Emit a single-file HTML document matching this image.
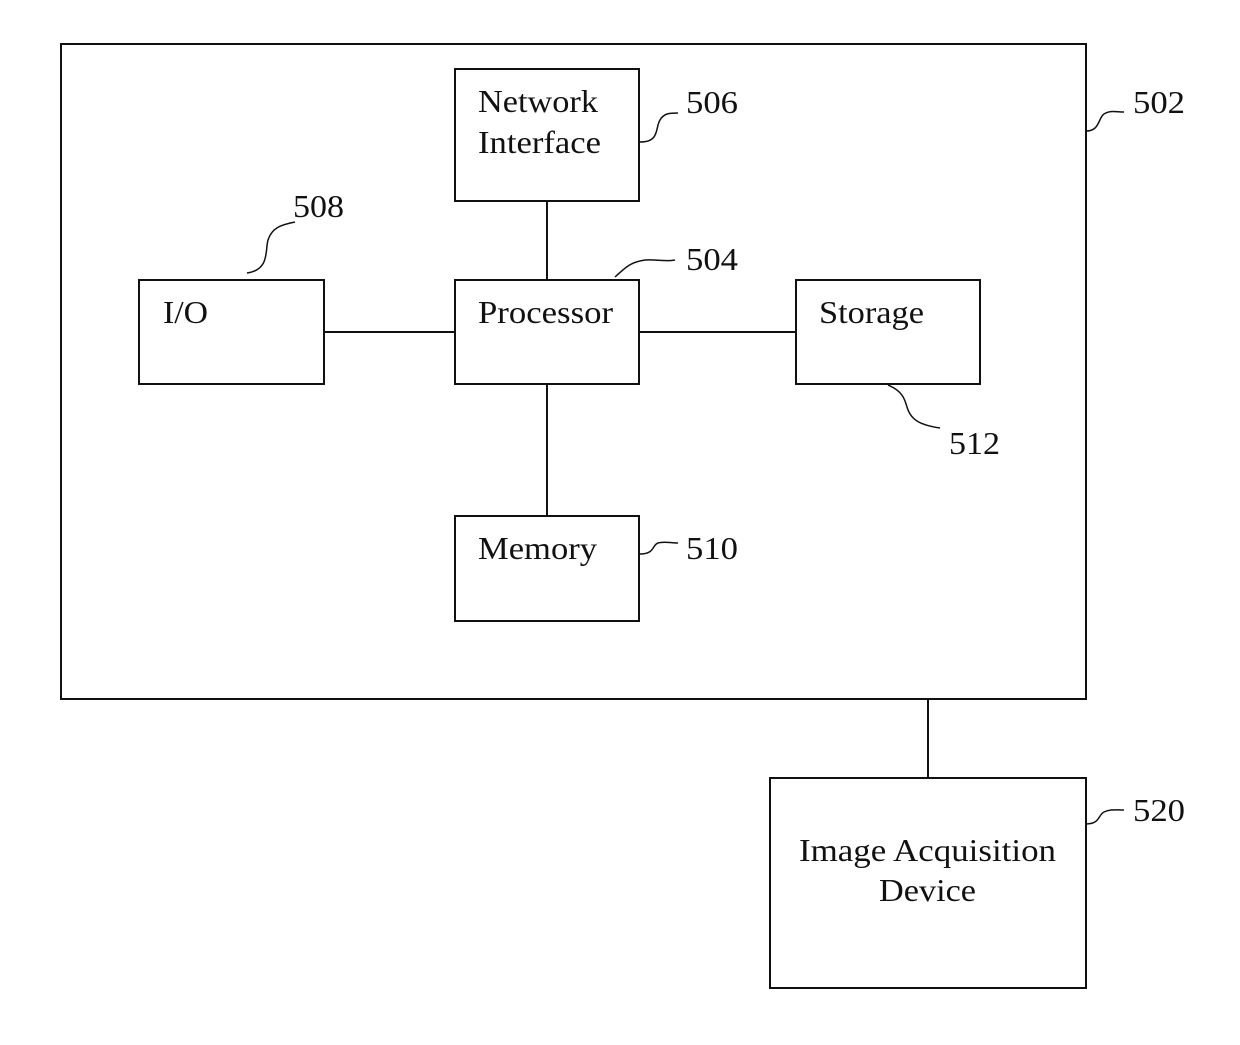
<!DOCTYPE html>
<html><head><meta charset="utf-8"><style>
html,body{margin:0;padding:0;background:#fff;}
svg{display:block;}
text{font-family:"Liberation Serif",serif;font-size:32px;fill:#111;}
</style></head><body>
<svg width="1240" height="1045" viewBox="0 0 1240 1045" xmlns="http://www.w3.org/2000/svg">
<g fill="none" stroke="#111" stroke-width="2">
<rect x="61" y="44" width="1025" height="655"/>
<rect x="455" y="69" width="184" height="132"/>
<rect x="139" y="280" width="185" height="104"/>
<rect x="455" y="280" width="184" height="104"/>
<rect x="796" y="280" width="184" height="104"/>
<rect x="455" y="516" width="184" height="105"/>
<rect x="770" y="778" width="316" height="210"/>
<line x1="547" y1="201" x2="547" y2="280"/>
<line x1="324" y1="332" x2="455" y2="332"/>
<line x1="639" y1="332" x2="796" y2="332"/>
<line x1="547" y1="384" x2="547" y2="516"/>
<line x1="928" y1="699" x2="928" y2="778"/>
<path d="M640 142 C660 142 655 128 660 120 C664 113 670 113 678 113" stroke-width="1.5"/>
<path d="M1086 131 C1100 131 1098 118 1104 114 C1110 110 1116 112 1124 112" stroke-width="1.5"/>
<path d="M247 273 C270 270 265 250 268 240 C272 228 280 225 295 222" stroke-width="1.5"/>
<path d="M615 277 C625 268 630 262 645 260 C655 259 665 262 675 260" stroke-width="1.5"/>
<path d="M888 385 C905 392 905 402 908 410 C912 420 920 425 940 428" stroke-width="1.5"/>
<path d="M640 554 C655 554 652 545 658 543 C664 541 670 543 678 543" stroke-width="1.5"/>
<path d="M1086 824 C1100 824 1098 815 1104 812 C1110 809 1116 810 1124 810" stroke-width="1.5"/>
</g>
<text x="478" y="112" textLength="120" lengthAdjust="spacingAndGlyphs">Network</text>
<text x="478" y="153" textLength="123" lengthAdjust="spacingAndGlyphs">Interface</text>
<text x="163" y="323" textLength="45" lengthAdjust="spacingAndGlyphs">I/O</text>
<text x="478" y="323" textLength="135" lengthAdjust="spacingAndGlyphs">Processor</text>
<text x="819" y="323" textLength="105" lengthAdjust="spacingAndGlyphs">Storage</text>
<text x="478" y="559" textLength="119" lengthAdjust="spacingAndGlyphs">Memory</text>
<text x="799" y="861" textLength="257" lengthAdjust="spacingAndGlyphs">Image Acquisition</text>
<text x="879" y="901" textLength="97" lengthAdjust="spacingAndGlyphs">Device</text>
<text x="686" y="113" textLength="52" lengthAdjust="spacingAndGlyphs">506</text>
<text x="1133" y="113" textLength="52" lengthAdjust="spacingAndGlyphs">502</text>
<text x="293" y="217" textLength="51" lengthAdjust="spacingAndGlyphs">508</text>
<text x="686" y="270" textLength="52" lengthAdjust="spacingAndGlyphs">504</text>
<text x="949" y="454" textLength="51" lengthAdjust="spacingAndGlyphs">512</text>
<text x="686" y="559" textLength="52" lengthAdjust="spacingAndGlyphs">510</text>
<text x="1133" y="821" textLength="52" lengthAdjust="spacingAndGlyphs">520</text>
</svg>
</body></html>
